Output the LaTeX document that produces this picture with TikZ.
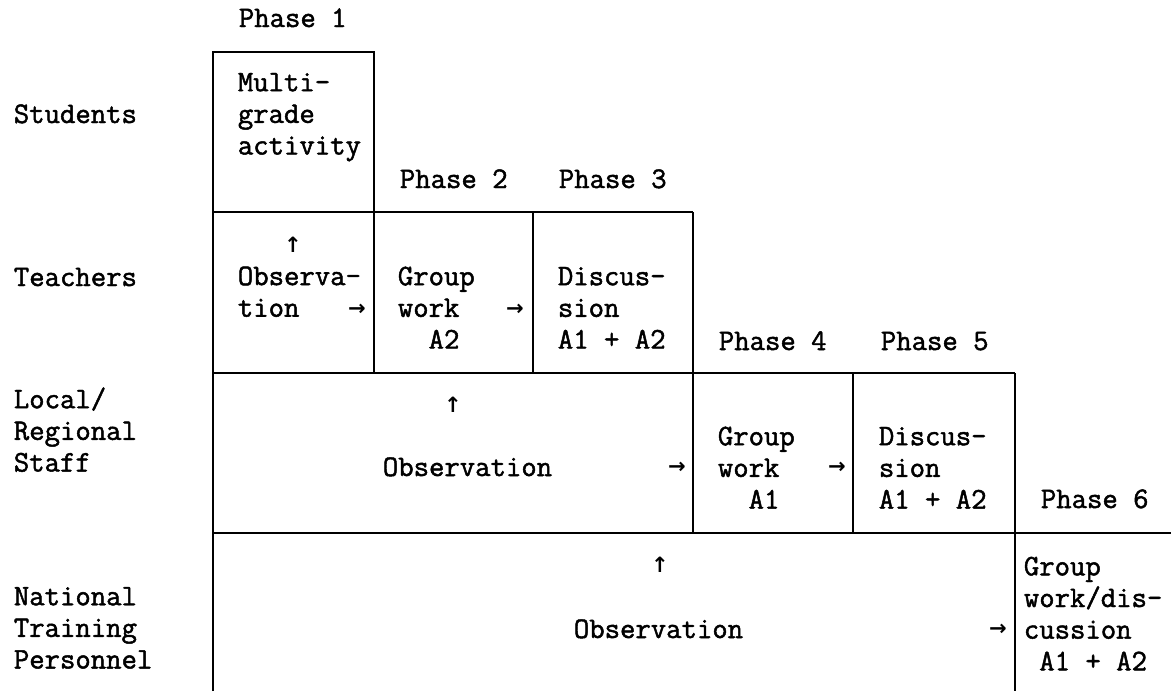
\documentclass[tikz,border=0pt]{standalone}
\usepackage{fontspec}
\newfontfamily\arrowfont{DejaVu Sans}
\newfontfamily\typew[RawFeature={embolden=1.6}]{lmmono12-regular.otf}

\tikzset{
    txt/.style={font=\typew\fontsize{17}{18}\selectfont, align=left, inner sep=0pt, anchor=base west},
    arr/.style={font=\arrowfont\bfseries\fontsize{12}{12}\selectfont, inner sep=0pt}
}

\begin{document}
\begin{tikzpicture}[line width=1pt]

    \useasboundingbox (0,0) rectangle (23.42,-13.82);

    % Draw the left edge and the phase 1 box
    \draw (4.26,-13.82) -- (4.26,-1.04) -- (7.48,-1.04) -- (7.48,-7.46);

    % Draw the teachers row
    \draw (4.26,-4.24) -- (13.86,-4.24);
    \draw (10.66,-4.24) -- (10.66,-7.46);
    \draw (13.86,-4.24) -- (13.86,-10.66);

    % Draw the local/regional row
    \draw (4.26,-7.46) -- (20.30,-7.46);
    \draw (17.06,-7.46) -- (17.06,-10.66);
    \draw (20.30,-7.46) -- (20.30,-13.82);

    % Draw the national row
    \draw (4.26,-10.66) -- (23.42,-10.66);

    % Row labels (base = last line)
    \node[txt] (students) at (0.26,-2.46) {Students};
    \node[txt] (teachers) at (0.26,-5.72) {Teachers};
    \node[txt] (local) at (0.26,-9.43) {Local/\\Regional\\Staff};
    \node[txt] (national) at (0.26,-13.37) {National\\Training\\Personnel};

    % Phase labels
    \node[txt] (ph1) at (4.76,-0.54) {Phase 1};
    \node[txt] (ph2) at (7.98,-3.76) {Phase 2};
    \node[txt] (ph3) at (11.16,-3.76) {Phase 3};
    \node[txt] (ph4) at (14.36,-7.00) {Phase 4};
    \node[txt] (ph5) at (17.60,-7.00) {Phase 5};
    \node[txt] (ph6) at (20.80,-10.16) {Phase 6};

    % Phase 1
    \node[txt] (multi) at (4.74,-3.09) {Multi-\\grade\\activity};

    % Teachers
    \node[txt] (obsT) at (4.74,-6.335) {Observa-\\tion};
    \node[txt] (groupT) at (7.94,-6.97) {Group\\work\\\hphantom{AA}A2};
    \node[txt] (discT) at (11.14,-6.97) {Discus-\\sion\\A1 + A2};

    % Local/regional staff
    \node[txt] (obsL) at (7.64,-9.52) {Observation};
    \node[txt] (groupL) at (14.34,-10.17) {Group\\work\\\hphantom{AA}A1};
    \node[txt] (discL) at (17.56,-10.17) {Discus-\\sion\\A1 + A2};

    % National training personnel
    \node[txt] (obsN) at (11.46,-12.76) {Observation};
    \node[txt] (groupN) at (20.46,-13.405) {Group\\work/dis-\\cussion\\\hphantom{A}A1 + A2};

    % Small arrows
    \node[arr] (upT) at (5.86,-4.90) {↑};
    \node[arr] (rtT1) at (7.14,-6.20) {→};
    \node[arr] (rtT2) at (10.30,-6.20) {→};
    \node[arr] (upL) at (9.06,-8.10) {↑};
    \node[arr] (rtL1) at (13.54,-9.36) {→};
    \node[arr] (rtL2) at (16.74,-9.36) {→};
    \node[arr] (upN) at (13.20,-11.30) {↑};
    \node[arr] (rtN) at (19.96,-12.60) {→};

\end{tikzpicture}
\end{document}
